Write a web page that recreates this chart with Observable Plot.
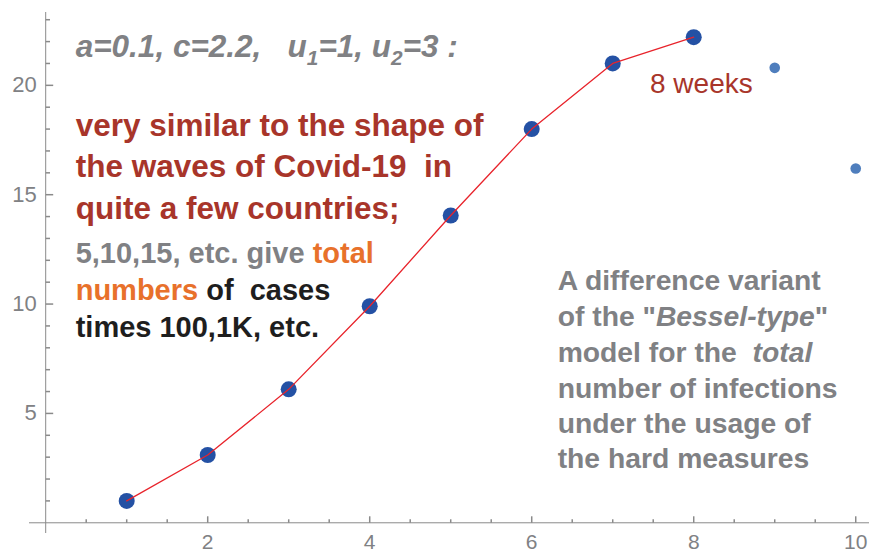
<!DOCTYPE html>
<html><head><meta charset="utf-8">
<script src="https://cdn.jsdelivr.net/npm/d3@7"></script>
<script src="https://cdn.jsdelivr.net/npm/@observablehq/plot@0.6"></script>
<style>
html,body{margin:0;padding:0;background:#fff;}
#chart svg{display:block;}
#chart svg text{white-space:pre;}
</style>
</head><body><div id="chart"></div>
<script>
// ---- data ----
const weeks = [1, 2, 3, 4, 5, 6, 7, 8];
const totals = [1.0, 3.1, 6.1, 9.9, 14.05, 18.0, 21.0, 22.2];
const laterWeeks = [9, 10];
const laterTotals = [20.8, 16.2];
const xTickValues = [2, 4, 6, 8, 10];
const xMinorTickValues = [0.5, 1, 1.5, 2.5, 3, 3.5, 4.5, 5, 5.5, 6.5, 7, 7.5, 8.5, 9, 9.5];
const yTickValues = [5, 10, 15, 20];
const yMinorTickValues = [1, 2, 3, 4, 6, 7, 8, 9, 11, 12, 13, 14, 16, 17, 18, 19, 21, 22, 23];

// ---- colours ----
const GRAY = "#808184", RED = "#a8352a", ORANGE = "#e8712b", BLACK = "#1e1e1e";
const AXIS = "#8a8a8a";

// ---- annotation text (segments) ----
const headerLines = [
  {x: 0.37, y: 21.28, segs: [
    {t: "a=0.1, c=2.2,   u"}, {t: "1", sub: true}, {t: "=1, u"}, {t: "2", sub: true}, {t: "=3 :"}]}
];
const redLines = [
  {x: 0.37, y: 17.67, segs: [{t: "very similar to the shape of"}]},
  {x: 0.37, y: 15.80, segs: [{t: "the waves of Covid-19  in"}]},
  {x: 0.37, y: 13.91, segs: [{t: "quite a few countries;"}]}
];
const grayLines = [
  {x: 0.37, y: 11.86, segs: [{t: "5,10,15, etc. give ", c: GRAY}, {t: "total", c: ORANGE}]},
  {x: 0.37, y: 10.17, segs: [{t: "numbers", c: ORANGE}, {t: " of  cases", c: BLACK}]},
  {x: 0.37, y: 8.48, segs: [{t: "times 100,1K, etc.", c: BLACK}]}
];
const rightLines = [
  {x: 6.32, y: 10.63, segs: [{t: "A difference variant"}]},
  {x: 6.32, y: 8.98, segs: [{t: "of the \""}, {t: "Bessel-type", i: true}, {t: "\""}]},
  {x: 6.32, y: 7.33, segs: [{t: "model for the  "}, {t: "total", i: true}]},
  {x: 6.32, y: 5.69, segs: [{t: "number of infections"}]},
  {x: 6.32, y: 4.09, segs: [{t: "under the usage of"}]},
  {x: 6.32, y: 2.49, segs: [{t: "the hard measures"}]}
];
const weeksLabel = [{x: 7.46, y: 19.63, segs: [{t: "8 weeks"}]}];

const plain = (l) => l.segs.map((s) => s.t).join("");

// custom tick symbols
const tickUp = (len) => ({draw(ctx) { ctx.moveTo(0, 0); ctx.lineTo(0, -len); }});
const tickRight = (len) => ({draw(ctx) { ctx.moveTo(0, 0); ctx.lineTo(len, 0); }});

const FONT = "Liberation Sans, Arial, Helvetica, sans-serif";
const FS_HEAD = 31.5, FS_RED = 31.5, FS_GRAY = 29, FS_RIGHT = 28.3, FS_WEEKS = 28;

function textMark(lines, opts) {
  return Plot.text(lines, {
    x: "x", y: "y", text: plain, textAnchor: "start", lineAnchor: "bottom",
    fontFamily: FONT, ...opts
  });
}

const chart = Plot.plot({
  width: 869,
  height: 552,
  marginLeft: 29, marginRight: 0, marginTop: 12, marginBottom: 19,
  x: {domain: [-0.2, 10.17], axis: null},
  y: {domain: [-0.49, 23.33], axis: null},
  style: {fontFamily: FONT, background: "white"},
  marks: [
    Plot.ruleY([0], {stroke: AXIS, strokeWidth: 1}),
    Plot.ruleX([0], {stroke: AXIS, strokeWidth: 1}),
    Plot.dot(xMinorTickValues, {x: (d) => d, y: () => 0, symbol: tickUp(3.5), stroke: AXIS, fill: "none"}),
    Plot.dot(xTickValues, {x: (d) => d, y: () => 0, symbol: tickUp(6.5), stroke: AXIS, fill: "none"}),
    Plot.dot(yMinorTickValues, {x: () => 0, y: (d) => d, symbol: tickRight(4.3), stroke: AXIS, fill: "none"}),
    Plot.dot(yTickValues, {x: () => 0, y: (d) => d, symbol: tickRight(7.5), stroke: AXIS, fill: "none"}),
    Plot.text(xTickValues, {x: (d) => d, y: () => 0, text: (d) => String(d), dy: 19, lineAnchor: "middle", fontSize: 21, fill: GRAY, fontFamily: FONT}),
    Plot.text(yTickValues, {x: () => 0, y: (d) => d, text: (d) => String(d), dx: -9, textAnchor: "end", fontSize: 22, fill: GRAY, fontFamily: FONT}),
    // data
    Plot.dot(laterWeeks, {x: (d) => d, y: (d, i) => laterTotals[i], r: 5.3, fill: "#4f7ebd"}),
    Plot.dot(weeks, {x: (d) => d, y: (d, i) => totals[i], r: 8, fill: "#2451a4"}),
    Plot.line(weeks, {x: (d) => d, y: (d, i) => totals[i], stroke: "#e8232b", strokeWidth: 1.3}),
    // annotations
    textMark(headerLines, {fontSize: FS_HEAD, fontWeight: "bold", fontStyle: "italic", fill: GRAY}),
    textMark(redLines, {fontSize: FS_RED, fontWeight: "bold", fill: RED}),
    textMark(grayLines, {fontSize: FS_GRAY, fontWeight: "bold", fill: GRAY}),
    textMark(rightLines, {fontSize: FS_RIGHT, fontWeight: "bold", fill: GRAY}),
    textMark(weeksLabel, {fontSize: FS_WEEKS, fill: RED})
  ]
});

// rich-text post-processing: colours, italics and subscripts inside lines
const richMap = new Map();
for (const [lines, fs] of [[headerLines, FS_HEAD], [grayLines, FS_GRAY], [rightLines, FS_RIGHT]]) {
  for (const l of lines) richMap.set(plain(l), {l, fs});
}
chart.querySelectorAll("text").forEach((el) => {
  const entry = richMap.get(el.textContent);
  if (!entry) return;
  const {l, fs} = entry;
  el.textContent = "";
  let shift = 0;
  for (const s of l.segs) {
    const ts = document.createElementNS("http://www.w3.org/2000/svg", "tspan");
    ts.textContent = s.t;
    if (s.c) ts.setAttribute("fill", s.c);
    if (s.i) ts.setAttribute("font-style", "italic");
    if (s.sub) {
      const d = fs * 0.24;
      ts.setAttribute("font-size", fs * 0.66);
      ts.setAttribute("dy", d - shift);
      shift = d;
    } else if (shift) {
      ts.setAttribute("dy", -shift);
      shift = 0;
    }
    el.appendChild(ts);
  }
});

document.getElementById("chart").appendChild(chart);
</script>
</body></html>
